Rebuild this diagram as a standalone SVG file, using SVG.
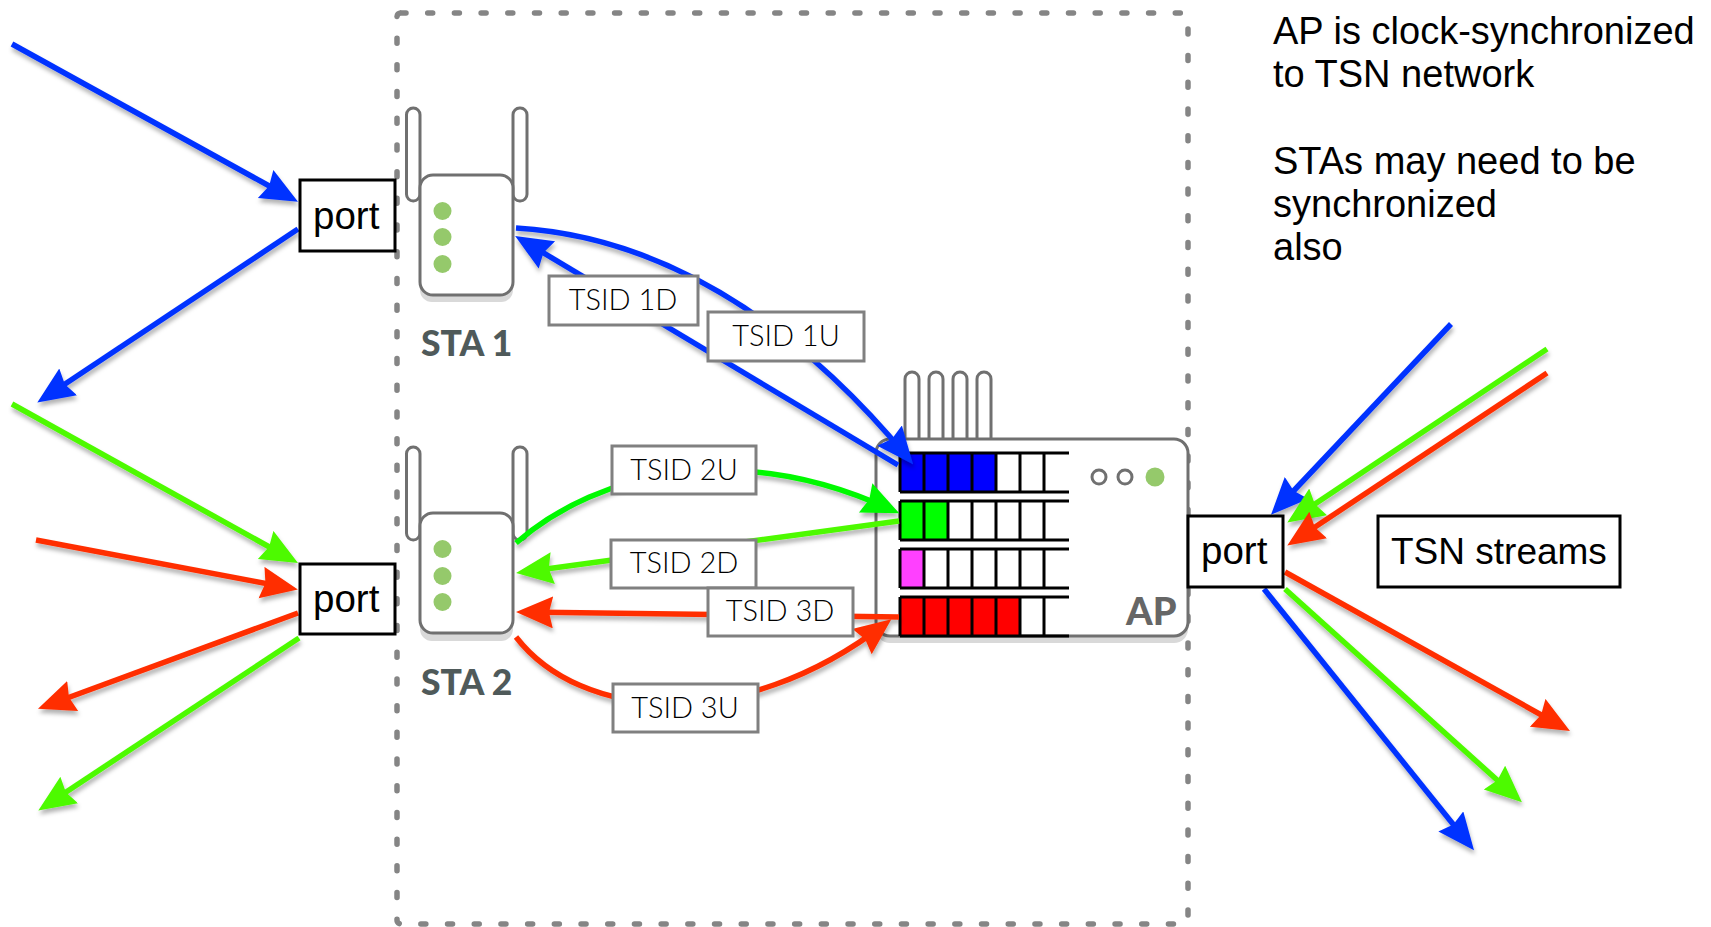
<svg xmlns="http://www.w3.org/2000/svg" width="1711" height="927" viewBox="0 0 1711 927">
<style>
text{font-family:"Liberation Sans",Arial,sans-serif;fill:#000}
.port{fill:#fff;stroke:#000;stroke-width:3}
.pt{font-size:38.5px}
.note{font-size:38px}
.lab{fill:#fff;stroke:#808080;stroke-width:3}
.lt{font-family:"Lato","Liberation Sans",sans-serif;font-weight:300;font-size:29px;text-anchor:middle}
.sta{font-family:"Lato","Liberation Sans",sans-serif;font-weight:900;font-size:35.500px;fill:#4f5a5a}
.body{fill:#fff;stroke:#707070;stroke-width:3}
.shade{fill:#d9d9d9}
.dot{fill:#95c96b}
.ring{fill:#fff;stroke:#707070;stroke-width:3}
.q{stroke:#000;stroke-width:3;fill:none}
.c{fill:none;stroke-width:5.500;filter:url(#sh)}
.b{stroke:#0433ff}.g{stroke:#4dfa00}.g2{stroke:#00f900}.r{stroke:#ff2f00}
.mb{marker-end:url(#ab)}.mg{marker-end:url(#ag)}.mg2{marker-end:url(#ag2)}.mr{marker-end:url(#ar)}
</style>
<defs>
<filter id="sh" x="0" y="0" width="1711" height="927" filterUnits="userSpaceOnUse"><feDropShadow dx="1" dy="4" stdDeviation="2" flood-color="#000" flood-opacity="0.3"/></filter>
<marker id="ab" markerUnits="userSpaceOnUse" markerWidth="40" markerHeight="34" refX="29" refY="16" orient="auto"><path d="M0,0L37,16L0,32L4,16Z" fill="#0433ff"/></marker>
<marker id="ag" markerUnits="userSpaceOnUse" markerWidth="40" markerHeight="34" refX="29" refY="16" orient="auto"><path d="M0,0L37,16L0,32L4,16Z" fill="#4dfa00"/></marker>
<marker id="ag2" markerUnits="userSpaceOnUse" markerWidth="40" markerHeight="34" refX="29" refY="16" orient="auto"><path d="M0,0L37,16L0,32L4,16Z" fill="#00f900"/></marker>
<marker id="ar" markerUnits="userSpaceOnUse" markerWidth="40" markerHeight="34" refX="29" refY="16" orient="auto"><path d="M0,0L37,16L0,32L4,16Z" fill="#ff2f00"/></marker>
<g id="qf" class="q"><path d="M900,453H1069M900,492H1069M900,453V492M924,453V492M948,453V492M972,453V492M996,453V492M1020,453V492M1044,453V492"/></g>
<g id="ant"><rect x="406.500" y="108" width="13.500" height="93" rx="6.700" class="body"/><rect x="513" y="108" width="14" height="93" rx="6.700" class="body"/></g>
</defs>
<rect width="1711" height="927" fill="#fff"/>
<rect id="boundary" x="397" y="13" width="791" height="911" rx="4" fill="none" stroke="#858585" stroke-width="5.500" stroke-linecap="round" stroke-dasharray="5 21.700"/>

<g id="sta1">
<use href="#ant"/>
<rect x="420" y="182" width="93" height="120" rx="12" class="shade"/>
<rect x="420" y="175" width="93" height="120" rx="13" class="body"/>
<ellipse cx="442.500" cy="211" rx="9" ry="9" class="dot"/><ellipse cx="442.500" cy="237" rx="9" ry="9" class="dot"/><ellipse cx="442.500" cy="264" rx="9" ry="9" class="dot"/>
<text x="421" y="356" class="sta">STA 1</text>
</g>
<g id="sta2">
<use href="#ant" y="339"/>
<rect x="420" y="521" width="93" height="120" rx="12" class="shade"/>
<rect x="420" y="513" width="93" height="120" rx="13" class="body"/>
<ellipse cx="442.500" cy="549" rx="9" ry="9" class="dot"/><ellipse cx="442.500" cy="576" rx="9" ry="9" class="dot"/><ellipse cx="442.500" cy="602" rx="9" ry="9" class="dot"/>
<text x="421" y="695" class="sta">STA 2</text>
</g>
<g id="ap">
<path d="M905,438V379a7,7 0 0 1 14,0V438M929,438V379a7,7 0 0 1 14,0V438M953,438V379a7,7 0 0 1 14,0V438M977,438V379a7,7 0 0 1 14,0V438" fill="#fff" stroke="#707070" stroke-width="3"/>
<rect x="876" y="445" width="312" height="198" rx="14" class="shade"/>
<rect x="876" y="439" width="312" height="197" rx="14" class="body"/>
<path fill="#0000ff" d="M900,453h96v39h-96z"/>
<path fill="#00ff00" d="M900,501h48v39h-48z"/>
<path fill="#ff40ff" d="M900,549h24v39h-24z"/>
<path fill="#ff0000" d="M900,597h120v39h-120z"/>
<use href="#qf"/><use href="#qf" y="48"/><use href="#qf" y="96"/><use href="#qf" y="144"/>
<circle cx="1099" cy="477" r="7" class="ring"/><circle cx="1125" cy="477" r="7" class="ring"/><circle cx="1155" cy="477" r="9.500" class="dot"/>
<text x="1126" y="625" style="font-family:Lato,'Liberation Sans',sans-serif;font-weight:900;font-size:38px;fill:#666">AP</text>
</g>

<g id="connectors">
<path class="c b mb" d="M12,44L291,198"/>
<path class="c b mb" d="M298,229L44,398"/>
<path class="c g mg" d="M12,404L291,559"/>
<path class="c r mr" d="M36,540L290,588"/>
<path class="c r mr" d="M298,613L45.500,706"/>
<path class="c g mg" d="M299,638L45,806"/>
<path class="c b mb" d="M1451,324L1276.500,509"/>
<path class="c g mg" d="M1547,349L1294,518"/>
<path class="c r mr" d="M1547,373L1294,541"/>
<path class="c r mr" d="M1285,572L1563,727"/>
<path class="c g mg" d="M1285,589L1516,797"/>
<path class="c b mb" d="M1264,589L1469,844"/>
<path class="c b mb" d="M516,228C655,236 790,315 908,458"/>
<path class="c b mb" d="M898,465L522,240"/>
<path class="c g2 mg2" d="M516,543C600,470 740,440 892,510"/>
<path class="c g mg" d="M899,521L524,572"/>
<path class="c r mr" d="M899,617L524,612"/>
<path class="c r mr" d="M516,637C580,720 740,735 885,624"/>
</g>

<g id="port1"><rect x="300" y="180" width="95" height="71" class="port"/><text x="313" y="229" class="pt">port</text></g>
<g id="port2"><rect x="300" y="564" width="95" height="70" class="port"/><text x="313" y="612" class="pt">port</text></g>
<g id="port3"><rect x="1188" y="516" width="95" height="71" class="port"/><text x="1201" y="564" class="pt">port</text></g>
<g id="tsn"><rect x="1378" y="516" width="242" height="71" class="port"/><text x="1391" y="564" style="font-size:37px">TSN streams</text></g>

<g id="tsid1d"><rect x="549" y="276" width="149" height="49" class="lab"/><text x="623" y="310" class="lt">TSID 1D</text></g>
<g id="tsid1u"><rect x="708" y="312" width="156" height="49" class="lab"/><text x="786" y="346" class="lt">TSID 1U</text></g>
<g id="tsid2u"><rect x="612" y="446" width="144" height="48" class="lab"/><text x="684" y="480" class="lt">TSID 2U</text></g>
<g id="tsid2d"><rect x="611" y="540" width="145" height="48" class="lab"/><text x="684" y="573" class="lt">TSID 2D</text></g>
<g id="tsid3d"><rect x="708" y="588" width="145" height="48" class="lab"/><text x="780" y="621" class="lt">TSID 3D</text></g>
<g id="tsid3u"><rect x="613" y="684" width="145" height="48" class="lab"/><text x="685" y="718" class="lt">TSID 3U</text></g>

<g id="notes" class="note">
<text x="1273" y="44">AP is clock-synchronized</text>
<text x="1273" y="87">to TSN network</text>
<text x="1273" y="174">STAs may need to be</text>
<text x="1273" y="217">synchronized</text>
<text x="1273" y="260">also</text>
</g>
</svg>
